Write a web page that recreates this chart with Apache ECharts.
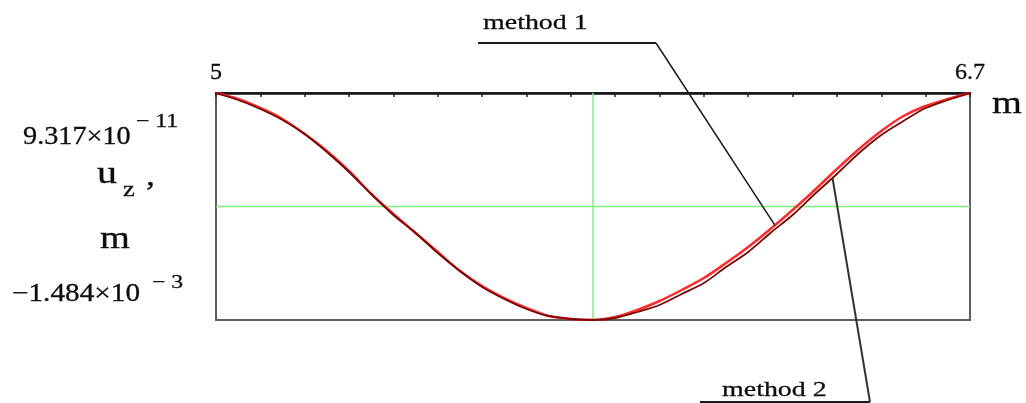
<!DOCTYPE html>
<html>
<head>
<meta charset="utf-8">
<script src="https://cdn.jsdelivr.net/npm/echarts@6/dist/echarts.min.js"></script>
<style>
html,body{margin:0;padding:0;background:#fff;}
#chart{width:1026px;height:403px;}
</style>
</head>
<body>
<div id="chart"></div>
<script>
// x positions along the span (m)
const xValues = [5.00,5.05,5.10,5.15,5.20,5.25,5.30,5.35,5.40,5.45,5.50,5.55,5.60,5.65,5.70,5.75,5.80,5.85,
                 5.90,5.95,6.00,6.05,6.10,6.15,6.20,6.25,6.30,6.35,6.40,6.45,6.50,6.55,6.60,6.65,6.70];
// displacement u_z (m), method 1 (red)
const method1 = [0,-3.92e-5,-9.81e-5,-1.700e-4,-2.680e-4,-3.792e-4,-5.099e-4,-6.603e-4,-7.910e-4,-9.152e-4,
                 -1.0394e-3,-1.1637e-3,-1.2617e-3,-1.3402e-3,-1.4055e-3,-1.4578e-3,-1.4775e-3,-1.484e-3,
                 -1.4644e-3,-1.4186e-3,-1.3598e-3,-1.2879e-3,-1.2094e-3,-1.1114e-3,-1.0068e-3,-8.891e-4,
                 -7.649e-4,-6.341e-4,-4.968e-4,-3.661e-4,-2.484e-4,-1.504e-4,-8.50e-5,-3.92e-5,0];
// displacement u_z (m), method 2 (dark red)
const method2 = [0,-4.58e-5,-1.046e-4,-1.765e-4,-2.680e-4,-3.857e-4,-5.164e-4,-6.603e-4,-7.976e-4,-9.152e-4,
                 -1.0460e-3,-1.1637e-3,-1.2683e-3,-1.3467e-3,-1.4121e-3,-1.4578e-3,-1.4775e-3,-1.484e-3,
                 -1.4709e-3,-1.4317e-3,-1.3859e-3,-1.3140e-3,-1.2421e-3,-1.1375e-3,-1.0394e-3,-9.152e-4,
                 -7.976e-4,-6.603e-4,-5.295e-4,-3.922e-4,-2.746e-4,-1.830e-4,-9.81e-5,-4.58e-5,0];
// axis range and marker values
const xMin = 5, xMax = 6.7, xStep = 0.1;
const yMin = -1.484e-3, yMax = 9.317e-11;
const xLabels = ['5', '6.7'];
const markerX = 5.85, markerY = -7.42e-4;
const seriesNames = ['method 1', 'method 2'];

const chart = echarts.init(document.getElementById('chart'), null, {renderer: 'canvas'});
const serif = '"Liberation Serif","DejaVu Serif",serif';
const green = {color: '#7fee7f', width: 1.5, type: 'solid'};
const ink = '#0d0d0d';

chart.setOption({
  animation: false,
  backgroundColor: '#fff',
  grid: {left: 216, right: 56, top: 93, bottom: 83, show: true, borderColor: '#5e5e5e', borderWidth: 2, outerBoundsMode: 'none', containLabel: false},
  xAxis: {
    type: 'value', position: 'top', min: xMin, max: xMax, interval: xStep,
    axisLine: {show: true, onZero: false, lineStyle: {color: '#111', width: 2.5}},
    axisTick: {show: true, inside: true, length: 4, lineStyle: {color: '#222', width: 1.5}},
    axisLabel: {
      show: true, interval: 0, margin: 8, fontFamily: serif, fontSize: 24, color: ink,
      textBorderColor: ink, textBorderWidth: 0.3,
      showMinLabel: true, showMaxLabel: true,
      formatter: function (v) {
        if (Math.abs(v - xMin) < 1e-9) return xLabels[0];
        if (Math.abs(v - xMax) < 1e-9) return xLabels[1];
        return '';
      }
    },
    splitLine: {show: false}
  },
  yAxis: {
    type: 'value', min: yMin, max: yMax,
    axisLine: {show: false}, axisTick: {show: false}, axisLabel: {show: false}, splitLine: {show: false}
  },
  series: [
    {
      name: 'markerV', type: 'line', showSymbol: false, silent: true, z: 1,
      data: [[markerX, yMin], [markerX, yMax]], lineStyle: green
    },
    {
      name: 'markerH', type: 'line', showSymbol: false, silent: true, z: 1,
      data: [[xMin, markerY], [xMax, markerY]], lineStyle: green
    },
    {
      name: seriesNames[0], type: 'line', showSymbol: false, smooth: 0.3, z: 3,
      data: xValues.map((x, i) => [x, method1[i]]),
      lineStyle: {color: '#ff2a2a', width: 2.5}
    },
    {
      name: seriesNames[1], type: 'line', showSymbol: false, smooth: 0.3, z: 4,
      data: xValues.map((x, i) => [x, method2[i]]),
      lineStyle: {color: '#780808', width: 1.8}
    }
  ]
});

function interp(xs, ys, x) {
  for (let i = 0; i < xs.length - 1; i++) {
    if (x >= xs[i] && x <= xs[i + 1]) {
      const t = (x - xs[i]) / (xs[i + 1] - xs[i]);
      return ys[i] + t * (ys[i + 1] - ys[i]);
    }
  }
  return ys[ys.length - 1];
}

const p1 = chart.convertToPixel({gridIndex: 0}, [6.26, interp(xValues, method1, 6.26)]);
const p2 = chart.convertToPixel({gridIndex: 0}, [6.39, interp(xValues, method2, 6.39)]);

function txt(text, x, y, size, sx) {
  return {type: 'text', x: x, y: y, scaleX: sx, z: 100,
    style: {text: text, fontFamily: serif, fontSize: size, fill: ink, stroke: ink, lineWidth: 0.3,
            align: 'left', verticalAlign: 'middle'}};
}
function ln(x1, y1, x2, y2, w, c) {
  return {type: 'line', z: 100, shape: {x1, y1, x2, y2}, style: {stroke: c || '#1a1a1a', lineWidth: w || 1.5}};
}

chart.setOption({
  graphic: [
    txt(seriesNames[0], 483, 23, 22, 1.27),
    ln(478, 43, 656, 43, 2),
    ln(656, 43, p1[0], p1[1], 1.5),
    txt(seriesNames[1], 722, 390, 22, 1.27),
    ln(700, 402, 870, 402, 2),
    ln(870, 402, p2[0], p2[1], 2, '#333'),
    txt('m', 992, 105, 32, 1.2),
    txt('9.317×10', 23, 137, 25, 1.13),
    txt('− 11', 136, 122, 19, 1.25),
    txt('u', 97, 175, 32, 1.25),
    txt('z', 123, 190, 22, 1.2),
    txt(',', 146, 177, 30, 1.2),
    txt('m', 100, 240, 32, 1.2),
    txt('−1.484×10', 12, 294, 25, 1.17),
    txt('− 3', 152, 283, 19, 1.25)
  ]
});
</script>
</body>
</html>
